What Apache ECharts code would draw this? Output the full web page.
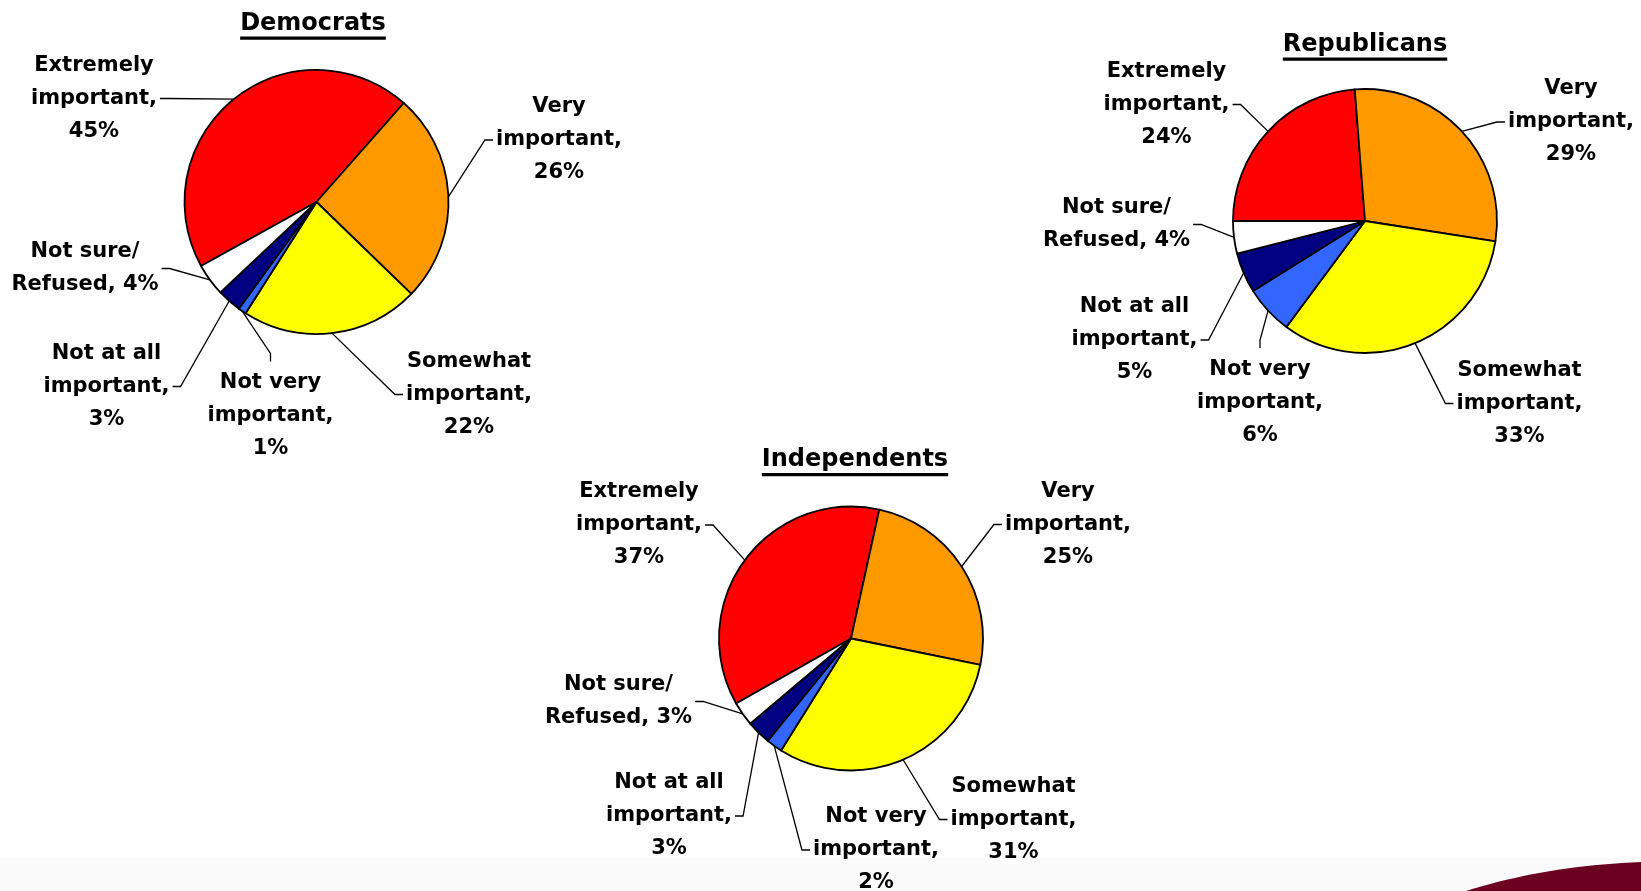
<!DOCTYPE html>
<html>
<head>
<meta charset="utf-8">
<title>Importance by party</title>
<script src="https://cdn.jsdelivr.net/npm/echarts@6/dist/echarts.min.js"></script>
<style>
html, body { margin: 0; padding: 0; background: #fff; }
#chart { width: 1641px; height: 891px; }
</style>
</head>
<body>
<div id="chart"></div>
<script>
var categories = ["Extremely important", "Very important", "Somewhat important", "Not very important", "Not at all important", "Not sure/Refused"];
var groupNames = ["Democrats", "Republicans", "Independents"];
var demValues = [45, 26, 22, 1, 3, 4];
var repValues = [24, 29, 33, 6, 5, 4];
var indValues = [37, 25, 31, 2, 3, 3];
var groupValues = [demValues, repValues, indValues];

var sliceColors = ["#FF0000", "#FF9900", "#FFFF00", "#3366FF", "#000080", "#FFFFFF"];

var R = 132;
var centers = [[316.5, 202], [1365, 221], [851, 638.5]];
var startAngles = [-151, 180, -150.5];
// title centre x, cap centre y
var titlePos = [[313, 23.5], [1365, 44.5], [855, 460]];
// label centres [x, y, side]: l = left of pie, r = right of pie, t = below (line enters from top)
var labelPos = [
	[[94, 98.5, "l"], [559, 140, "r"], [469, 394.5, "r"], [270.5, 416, "t"], [106.5, 386.5, "l"], [85, 268.5, "l"]],
	[[1166.5, 104.5, "l"], [1571, 122, "r"], [1519.5, 403.5, "r"], [1260, 402.5, "t"], [1134.5, 340, "l"], [1116.5, 224.5, "l"]],
	[[639, 525, "l"], [1068, 524.5, "r"], [1013.5, 819.5, "r"], [876, 850, "r"], [669, 816, "l"], [618.5, 701.5, "l"]]
];

var FONT = "'DejaVu Sans', Verdana, sans-serif";

function buildData(values) {
	var out = [];
	for (var i = 0; i < categories.length; i++) {
		out.push({ name: categories[i], value: values[i], itemStyle: { color: sliceColors[i] } });
	}
	return out;
}

function labelText(p) {
	var name = p.name;
	if (name.indexOf("/") >= 0) {
		return name.replace("/", "/\n") + ", " + p.value + "%";
	}
	return name.replace(/ important$/, "\nimportant") + ",\n" + p.value + "%";
}

function layoutFor(g) {
	return function (params) {
		var pos = labelPos[g][params.dataIndex];
		var w = params.labelRect.width, h = params.labelRect.height;
		var c = centers[g];
		var p0;
		if (params.labelLinePoints && params.labelLinePoints[0]) {
			p0 = params.labelLinePoints[0];
		} else {
			// fallback: pie edge at the slice's middle angle
			var vals = groupValues[g], tot = 0, cum = 0;
			for (var k = 0; k < vals.length; k++) { tot += vals[k]; }
			for (var k2 = 0; k2 < params.dataIndex; k2++) { cum += vals[k2]; }
			var a = (startAngles[g] - (cum + vals[params.dataIndex] / 2) / tot * 360) * Math.PI / 180;
			p0 = [c[0] + R * Math.cos(a), c[1] - R * Math.sin(a)];
		}
		var end, elbow;
		if (pos[2] === "l") {
			end = [pos[0] + w / 2 + 3, pos[1]];
			elbow = [end[0] + 8, end[1]];
		} else if (pos[2] === "r") {
			end = [pos[0] - w / 2 - 3, pos[1]];
			elbow = [end[0] - 8, end[1]];
		} else {
			end = [pos[0], pos[1] - h / 2 - 5];
			elbow = [end[0], end[1] - 8];
		}
		return {
			x: pos[0], y: pos[1],
			align: "center", verticalAlign: "middle",
			labelLinePoints: [p0, elbow, end]
		};
	};
}

var series = [];
for (var g = 0; g < 3; g++) {
	series.push({
		type: "pie",
		silent: true,
		animation: false,
		avoidLabelOverlap: false,
		center: centers[g],
		radius: [0, R],
		startAngle: startAngles[g],
		clockwise: true,
		itemStyle: { borderColor: "#000", borderWidth: 1.8 },
		emphasis: { disabled: true },
		label: {
			show: true,
			position: "outside",
			formatter: labelText,
			color: "#000",
			fontFamily: FONT,
			fontWeight: "bold",
			fontSize: 21,
			lineHeight: 33,
			align: "center"
		},
		labelLine: { show: true, smooth: false, lineStyle: { color: "#000", width: 1.3 } },
		labelLayout: layoutFor(g),
		data: buildData(groupValues[g])
	});
}

// bottom swoosh outline (quadratic curve sampled into a polygon)
var swoosh = [];
for (var s = 0; s <= 20; s++) {
	var u = s / 20;
	swoosh.push([
		(1 - u) * (1 - u) * 1466 + 2 * u * (1 - u) * 1545 + u * u * 1641,
		(1 - u) * (1 - u) * 891 + 2 * u * (1 - u) * 866 + u * u * 862
	]);
}
swoosh.push([1641, 891]);

// titles with underline, measured so the line fits the text
var measure = document.createElement("canvas").getContext("2d");
measure.font = "bold 24px " + FONT;
var graphics = [
	{ type: "rect", z: -10, shape: { x: 0, y: 858, width: 1641, height: 33 }, style: { fill: "#FBFBFB" } },
	{ type: "polygon", z: -5, shape: { points: swoosh }, style: { fill: "#6C0020" } }
];
for (var t = 0; t < groupNames.length; t++) {
	var tw = measure.measureText(groupNames[t]).width;
	graphics.push({
		type: "text",
		x: titlePos[t][0], y: titlePos[t][1],
		style: {
			text: groupNames[t],
			fill: "#000",
			font: "bold 24px " + FONT,
			align: "center", verticalAlign: "middle",
			textAlign: "center", textVerticalAlign: "middle"
		}
	});
	graphics.push({
		type: "rect",
		shape: { x: titlePos[t][0] - tw / 2, y: titlePos[t][1] + 13, width: tw, height: 3.3 },
		style: { fill: "#000" }
	});
}

var chart = echarts.init(document.getElementById("chart"));
chart.setOption({
	backgroundColor: "#FFFFFF",
	animation: false,
	graphic: graphics,
	series: series
});
</script>
</body>
</html>
